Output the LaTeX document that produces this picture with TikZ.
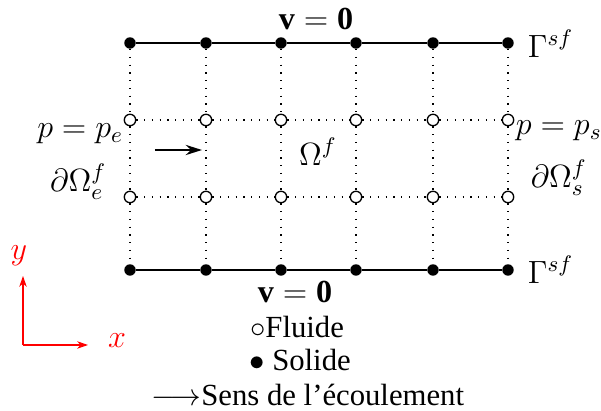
\documentclass[tikz,border=0pt]{standalone}
\usepackage{fix-cm}
\usepackage{fontspec}
\setmainfont{Liberation Serif}
\usetikzlibrary{arrows.meta,positioning}

\begin{document}
\begin{tikzpicture}[x=0.42pt,y=-0.42pt,font=\fontsize{13.5}{15}\selectfont,>={Stealth[length=2.4mm,width=1.5mm,inset=0.8mm]},
 every node/.style={inner sep=1pt},
 solidpt/.style={circle,fill,inner sep=0pt,minimum size=4.8pt},
 fluidpt/.style={circle,draw,fill=white,inner sep=0pt,minimum size=4.8pt,line width=.55pt},
 wall/.style={line width=1.2pt},
 gridln/.style={line width=.5pt,dash pattern=on .55pt off 2.7pt},
 axis/.style={red,-{Stealth[length=1.6mm,width=1.1mm,inset=.5mm]},line width=.5pt},
 legend/.style={font=\fontsize{12.9}{14}\selectfont}]
\useasboundingbox (0,0) rectangle (601,411);
% grid points: t = top wall, u/l = fluid rows, b = bottom wall
\foreach \i/\x in {1/130,2/206,3/281,4/356,5/433,6/508}{
 \node[solidpt] (t\i) at (\x,43) {};
 \node[fluidpt] (u\i) at (\x,120) {};
 \node[fluidpt] (l\i) at (\x,197) {};
 \node[solidpt] (b\i) at (\x,270) {};
}
\foreach \i in {1,...,6}{\draw[gridln] (t\i)--(u\i)--(l\i)--(b\i);}
\foreach \i/\j in {1/2,2/3,3/4,4/5,5/6}{
 \draw[wall] (t\i)--(t\j);
 \draw[wall] (b\i)--(b\j);
 \draw[gridln] (u\i)--(u\j);
 \draw[gridln] (l\i)--(l\j);
}
% boundary labels
\node (vtop) at (316,19) {$\mathbf{v}=\mathbf{0}$};
\node (vbot) at (295,292) {$\mathbf{v}=\mathbf{0}$};
\node[anchor=west] (gtop) at (525,44) {$\Gamma^{sf}$};
\node[anchor=west] (gbot) at (525,270) {$\Gamma^{sf}$};
\node[anchor=east] (pe) at (126,134) {$p=p_e$};
\node[anchor=east] (de) at (109,182) {$\partial\Omega^f_e$};
\node[anchor=west] (ps) at (513,131) {$p=p_s$};
\node[anchor=west] (ds) at (528,178) {$\partial\Omega^f_s$};
\node (om) at (318,152) {$\Omega^f$};
\coordinate (fa) at (155,150);
\coordinate (fb) at (202,150);
\draw[->,line width=1.1pt] (fa)--(fb);
% axes
\coordinate (o) at (23,345);
\coordinate (ax) at (88,345);
\coordinate (ay) at (23,276);
\draw[axis] (o)--(ax);
\draw[axis] (o)--(ay);
\node[red] (xlab) at (117,341) {$x$};
\node[red] (ylab) at (19,256) {$y$};
% legend
\node[legend] (fl) at (297,327) {$\circ$Fluide};
\node[legend] (so) at (300,360) {$\bullet$ Solide};
\node[legend] (se) at (308,395) {$\longrightarrow$Sens de l'écoulement};
\end{tikzpicture}
\end{document}
